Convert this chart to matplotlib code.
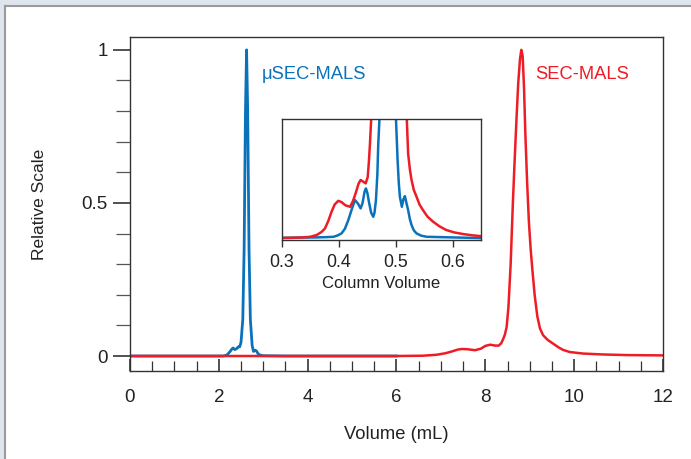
import matplotlib
matplotlib.use("Agg")
import matplotlib.pyplot as plt
from matplotlib.patches import Rectangle
from matplotlib.lines import Line2D
from matplotlib.ticker import MultipleLocator

plt.rcParams["font.family"] = ["Liberation Sans", "DejaVu Sans"]

BLUE = "#0a72bb"
RED = "#ee1c25"

# main chromatograms, volume (mL) vs relative scale
usec_vol = [0.0, 1.5, 2.1, 2.18, 2.25, 2.29, 2.32, 2.36, 2.40, 2.44, 2.47, 2.50, 2.54,
            2.57, 2.60, 2.625, 2.65, 2.68, 2.71, 2.75, 2.78, 2.82, 2.85, 2.88, 2.93,
            3.0, 3.5, 6.0]
usec_sig = [0.0, 0.0, 0.0, 0.003, 0.014, 0.022, 0.026, 0.021, 0.024, 0.03, 0.03, 0.045,
            0.12, 0.35, 0.8, 1.0, 0.8, 0.35, 0.12, 0.035, 0.015, 0.019, 0.016, 0.008,
            0.003, 0.001, 0.0, 0.0]

sec_vol = [0.0, 6.0, 6.6, 6.9, 7.1, 7.25, 7.38, 7.47, 7.6, 7.77, 7.9, 8.0, 8.11, 8.22,
           8.3, 8.36, 8.40, 8.44, 8.48, 8.52, 8.57, 8.62, 8.66, 8.70, 8.74, 8.78, 8.81,
           8.84, 8.87, 8.90, 8.94, 8.98, 9.02, 9.06, 9.11, 9.17, 9.23, 9.30, 9.40, 9.53,
           9.65, 9.75, 9.90, 10.2, 10.65, 11.2, 12.0]
sec_sig = [0.0, 0.0, 0.001, 0.004, 0.009, 0.015, 0.021, 0.023, 0.022, 0.019, 0.024,
           0.033, 0.037, 0.034, 0.034, 0.042, 0.055, 0.07, 0.095, 0.16, 0.30, 0.50,
           0.64, 0.77, 0.89, 0.97, 1.0, 0.98, 0.88, 0.73, 0.57, 0.44, 0.35, 0.28, 0.2,
           0.13, 0.09, 0.068, 0.053, 0.04, 0.028, 0.02, 0.013, 0.008, 0.005, 0.003, 0.002]

# inset, column volume
usec_cv = [0.30, 0.36, 0.38, 0.391, 0.398, 0.405, 0.411, 0.417, 0.423, 0.4286, 0.434,
           0.4386, 0.442, 0.4455, 0.4479, 0.4505, 0.4535, 0.457, 0.4608, 0.463, 0.4655,
           0.468, 0.4696, 0.4725, 0.487, 0.50, 0.5035, 0.5055, 0.5075, 0.511, 0.5135,
           0.5163, 0.519, 0.522, 0.525, 0.528, 0.532, 0.5368, 0.545, 0.5544, 0.601, 0.65]
usec_in = [0.0004, 0.0006, 0.0008, 0.001, 0.0018, 0.0031, 0.006, 0.0114, 0.018, 0.0238,
           0.0215, 0.0186, 0.022, 0.029, 0.031, 0.028, 0.022, 0.016, 0.0134, 0.016,
           0.0238, 0.04, 0.0589, 0.08, 1.0, 0.08, 0.0486, 0.035, 0.0258, 0.0196, 0.024,
           0.0262, 0.022, 0.0176, 0.012, 0.0083, 0.005, 0.0031, 0.0017, 0.001, 0.0006,
           0.0002]

sec_cv = [0.30, 0.338, 0.35, 0.3614, 0.37, 0.376, 0.382, 0.3875, 0.393, 0.3993, 0.405,
          0.412, 0.42, 0.425, 0.4303, 0.435, 0.4386, 0.443, 0.4474, 0.451, 0.453, 0.455,
          0.458, 0.487, 0.519, 0.522, 0.525, 0.528, 0.532, 0.5368, 0.542, 0.548, 0.556,
          0.566, 0.577, 0.589, 0.603, 0.6185, 0.635, 0.65]
sec_in = [0.0002, 0.0006, 0.001, 0.0021, 0.004, 0.0062, 0.011, 0.0165, 0.021, 0.0233,
          0.0225, 0.0205, 0.0196, 0.023, 0.0285, 0.034, 0.0362, 0.0352, 0.0341, 0.038,
          0.047, 0.0589, 0.08, 1.0, 0.08, 0.0527, 0.043, 0.0362, 0.030, 0.0258, 0.021,
          0.0176, 0.0135, 0.0103, 0.0075, 0.0052, 0.0037, 0.0027, 0.0019, 0.0014]

fig = plt.figure(figsize=(6.91, 4.59), dpi=100)

# window-like frame around the figure
fig.patches.append(Rectangle((0, 1 - 5 / 459), 1, 5 / 459, transform=fig.transFigure,
                             facecolor="#dfe5ec", edgecolor="none", zorder=-1))
fig.patches.append(Rectangle((0, 0), 5 / 691, 1, transform=fig.transFigure,
                             facecolor="#dfe5ec", edgecolor="none", zorder=-1))
fig.lines.append(Line2D([5.5 / 691, 1], [1 - 5.5 / 459, 1 - 5.5 / 459],
                        transform=fig.transFigure, color="#9a9a9a", lw=1.5))
fig.lines.append(Line2D([5.5 / 691, 5.5 / 691], [0, 1 - 5.5 / 459],
                        transform=fig.transFigure, color="#9a9a9a", lw=1.5))

ax = fig.add_axes([0.1881, 0.1917, 0.7714, 0.7277])
ax.plot(usec_vol, usec_sig, color=BLUE, lw=2.0)
ax.plot(sec_vol, sec_sig, color=RED, lw=1.8)
ax.set_xlim(0, 12)
ax.set_ylim(-0.049, 1.042)
ax.set_xticks([0, 2, 4, 6, 8, 10, 12])
ax.xaxis.set_minor_locator(MultipleLocator(0.5))
ax.set_yticks([0, 0.5, 1])
ax.set_yticklabels(["0", "0.5", "1"])
ax.yaxis.set_minor_locator(MultipleLocator(0.1))
ax.tick_params(axis="x", which="major", direction="in", length=9, width=1.2,
               color="#333333", labelsize=13.5, pad=13, labelcolor="#222222")
ax.tick_params(axis="x", which="minor", direction="in", length=7, width=0.9,
               color="#333333")
ax.tick_params(axis="y", which="major", direction="out", length=12, width=1.2,
               color="#333333", labelsize=13.5, pad=4, labelcolor="#222222")
ax.tick_params(axis="y", which="minor", direction="out", length=10, width=0.9,
               color="#555555")
for s in ax.spines.values():
    s.set_color("#333333")
    s.set_linewidth(1.0)
ax.set_xlabel("Volume (mL)", fontsize=13.2, color="#222222", labelpad=14)
ax.set_ylabel("Relative Scale", fontsize=12.5, color="#222222", labelpad=25)

ax.text(2.97, 0.918, "\u03bcSEC-MALS", color=BLUE, fontsize=13.2, va="center")
ax.text(9.12, 0.918, "SEC-MALS", color=RED, fontsize=13.2, va="center")

ins = fig.add_axes([0.4077, 0.4771, 0.2884, 0.2636])
ins.plot(usec_cv, usec_in, color=BLUE, lw=1.8)
ins.plot(sec_cv, sec_in, color=RED, lw=1.8)
ins.set_xlim(0.3, 0.65)
ins.set_ylim(-0.001, 0.074)
ins.set_xticks([0.3, 0.4, 0.5, 0.6])
ins.set_yticks([])
ins.tick_params(axis="x", direction="out", length=5, width=1.0, color="#333333",
                labelsize=12.8, pad=5, labelcolor="#222222")
for s in ins.spines.values():
    s.set_color("#333333")
    s.set_linewidth(1.0)
ins.set_xlabel("Column Volume", fontsize=12, color="#222222", labelpad=4)

fig.savefig("out.png", dpi=100)
